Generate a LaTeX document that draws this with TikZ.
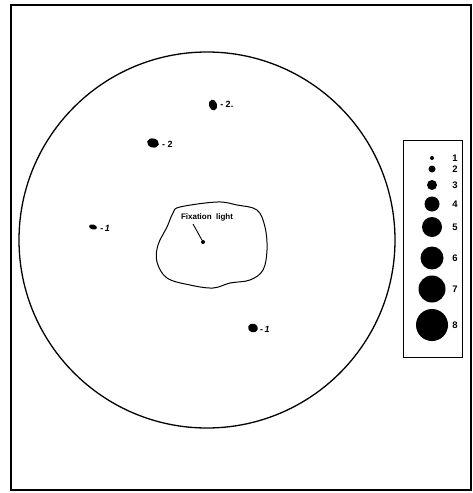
\documentclass[tikz,border=0pt]{standalone}
\usepackage{fontspec}
\setmainfont{Liberation Sans}
\usetikzlibrary{positioning,shapes.geometric}

\tikzset{
  lbl/.style={font=\bfseries\fontsize{9}{10}\selectfont, inner sep=0pt},
  spot/.style={ellipse, fill=black, inner sep=0pt},
  keynum/.style={font=\bfseries\fontsize{9.5}{10}\selectfont, inner sep=0pt}
}

\begin{document}
\begin{tikzpicture}[x=1pt,y=-1pt]
                \useasboundingbox (0,0) rectangle (473,493);
                \draw[line width=1.6pt] (11,5) rectangle (471,490);
                \draw[line width=1.3pt] (207,240) circle (188pt);

                % field seen around the fixation point
                \draw[line width=1pt] plot[smooth cycle, tension=0.6] coordinates {
                        (180,207) (217,202) (237,205) (257,210) (265,227) (267,250)
                        (263,270) (250,280) (230,283) (213,288) (190,285) (167,278)
                        (157,262) (158,245) (167,227) (173,213)};
                \node[circle, fill=black, inner sep=0pt, minimum size=4pt] (fix) at (203,242) {};
                \node[lbl, font=\bfseries\fontsize{8}{9}\selectfont] (fixlabel) at (207,217) {Fixation\ \ light};
                \coordinate (fixtail) at (193,224);
                \draw[line width=0.9pt] (fixtail) -- (fix);

                % spots
                \node[spot, minimum width=8pt, minimum height=11pt, rotate=15] (sa) at (213,105) {};
                \node[lbl, right=3pt of sa] {- 2.};
                \node[spot, minimum width=12pt, minimum height=9pt, rotate=-15] (sb) at (153,143) {};
                \node[lbl, right=3pt of sb] {- 2};
                \node[spot, minimum width=8pt, minimum height=5pt, rotate=-15] (sc) at (93,227) {};
                \node[lbl, right=3pt of sc] {-\,\textit{1}};
                \node[spot, minimum width=10pt, minimum height=9pt, rotate=-20] (sd) at (253,328) {};
                \node[lbl, right=2pt of sd] {-\,\textit{1}};

                % size key
                \draw[fill=white, line width=1pt] (403,140) rectangle (462,357);
                \foreach \n/\y/\d in {1/158/4,2/169/7,3/185/10,4/204/15,5/227/20,6/258/23,7/289/27,8/325/32} {
                        \node[circle, fill=black, inner sep=0pt, minimum size=\d pt] (dot\n) at (432,\y) {};
                        \node[keynum] (num\n) at (455,\y) {\n};
                    }
            \end{tikzpicture}
\end{document}
